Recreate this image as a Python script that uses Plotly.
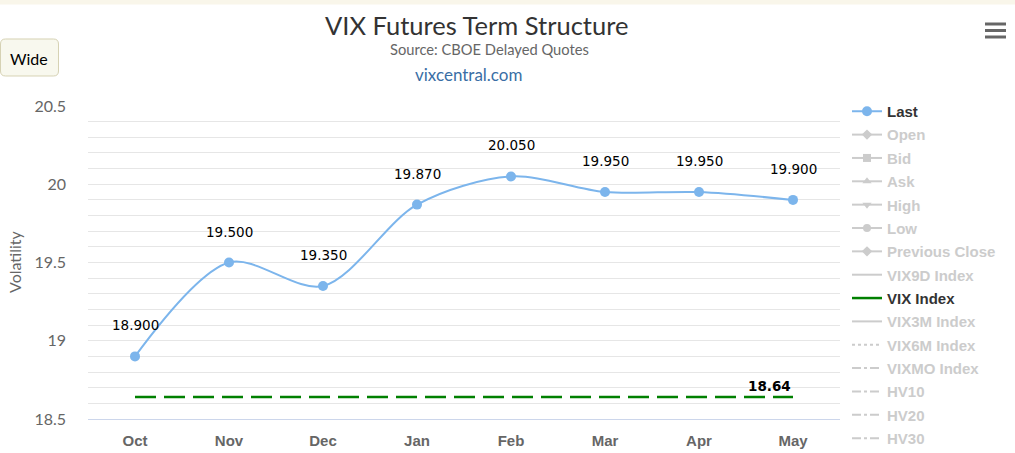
import plotly.graph_objects as go

# ---- data ----
months = ["Oct", "Nov", "Dec", "Jan", "Feb", "Mar", "Apr", "May"]
last_values = [18.900, 19.500, 19.350, 19.870, 20.050, 19.950, 19.950, 19.900]
vix_index = 18.64
y_ticks = [18.5, 19, 19.5, 20, 20.5]
y_tick_labels = ["18.5", "19", "19.5", "20", "20.5"]

hidden_markers = [("Open", "diamond"), ("Bid", "square"), ("Ask", "triangle-up"),
                  ("High", "triangle-down"), ("Low", "circle"), ("Previous Close", "diamond")]
hidden_lines_before = [("VIX9D Index", "solid")]
hidden_lines_after = [("VIX3M Index", "solid"), ("VIX6M Index", "dot"),
                      ("VIXMO Index", "dashdot"), ("HV10", "dashdot"),
                      ("HV20", "dashdot"), ("HV30", "dashdot")]

W, H = 1015, 453
L, R, T, B = 88, 175, 106, 34
PW, PH = W - L - R, H - T - B

def px(x):
    return (x - L) / PW

def py(y):
    return (H - B - y) / PH

GREY = "#cccccc"
BLUE = "#7cb5ec"
GREEN = "#008000"
TF = "Lato"

fig = go.Figure()
gi = 0

def grp():
    global gi
    gi += 1
    return "g%d" % gi

fig.add_trace(go.Scatter(
    x=months, y=last_values, name="Last", mode="lines+markers",
    line=dict(color=BLUE, width=2, shape="spline", smoothing=0.9),
    marker=dict(color=BLUE, size=10), legendgroup=grp(), hoverinfo="x+y"))

for name, sym in hidden_markers:
    fig.add_trace(go.Scatter(
        x=[None], y=[None], mode="lines+markers",
        name='<span style="color:%s">%s</span>' % (GREY, name),
        line=dict(color=GREY, width=2), marker=dict(color=GREY, size=8, symbol=sym),
        legendgroup=grp()))

for name, dash in hidden_lines_before:
    fig.add_trace(go.Scatter(
        x=[None], y=[None], mode="lines",
        name='<span style="color:%s">%s</span>' % (GREY, name),
        line=dict(color=GREY, width=2, dash=dash), legendgroup=grp()))

vix_group = grp()
fig.add_trace(go.Scatter(
    x=[months[0], months[-1]], y=[vix_index, vix_index], name="VIX Index", mode="lines",
    line=dict(color=GREEN, width=2.5, dash="21px,8px"), legendgroup=vix_group,
    showlegend=False))
fig.add_trace(go.Scatter(
    x=[None], y=[None], name="VIX Index", mode="lines",
    line=dict(color=GREEN, width=2.5), legendgroup=vix_group))

for name, dash in hidden_lines_after:
    fig.add_trace(go.Scatter(
        x=[None], y=[None], mode="lines",
        name='<span style="color:%s">%s</span>' % (GREY, name),
        line=dict(color=GREY, width=2, dash=dash), legendgroup=grp()))

annotations = []
for m, v in zip(months, last_values):
    annotations.append(dict(x=m, y=v, text="%.3f" % v, showarrow=False, yshift=31,
                            font=dict(family="DejaVu Sans", size=13.5, color="#000000")))
annotations.append(dict(x=months[-1], y=vix_index, text="<b>%.2f</b>" % vix_index,
                        showarrow=False, xanchor="right", yshift=11,
                        font=dict(family="DejaVu Sans", size=13.5, color="#000000")))
# titles
annotations += [
    dict(xref="paper", yref="paper", x=px(476), y=py(25), text="VIX Futures Term Structure",
         showarrow=False, xanchor="center", yanchor="middle",
         font=dict(family=TF, size=25.5, color="#333333")),
    dict(xref="paper", yref="paper", x=px(490), y=py(49), text="Source: CBOE Delayed Quotes",
         showarrow=False, xanchor="center", yanchor="middle",
         font=dict(family=TF, size=14.7, color="#666666")),
    dict(xref="paper", yref="paper", x=px(468), y=py(75), text="vixcentral.com",
         showarrow=False, xanchor="center", yanchor="middle",
         font=dict(family=TF, size=17, color="#3a6ea5")),
    dict(xref="paper", yref="paper", x=px(14), y=py(262), text="Volatility",
         showarrow=False, xanchor="center", yanchor="middle", textangle=-90,
         font=dict(family=TF, size=16, color="#666666")),
    dict(xref="paper", yref="paper", x=px(29), y=py(58), text="Wide",
         showarrow=False, xanchor="center", yanchor="middle",
         font=dict(family=TF, size=16, color="#000000")),
]

def rounded_rect(x0, y0, x1, y1, r):
    pts = [
        "M %f,%f" % (px(x0 + r), py(y0)),
        "L %f,%f" % (px(x1 - r), py(y0)),
        "Q %f,%f %f,%f" % (px(x1), py(y0), px(x1), py(y0 + r)),
        "L %f,%f" % (px(x1), py(y1 - r)),
        "Q %f,%f %f,%f" % (px(x1), py(y1), px(x1 - r), py(y1)),
        "L %f,%f" % (px(x0 + r), py(y1)),
        "Q %f,%f %f,%f" % (px(x0), py(y1), px(x0), py(y1 - r)),
        "L %f,%f" % (px(x0), py(y0 + r)),
        "Q %f,%f %f,%f" % (px(x0), py(y0), px(x0 + r), py(y0)),
        "Z",
    ]
    return " ".join(pts)

shapes = [
    dict(type="rect", xref="paper", yref="paper", x0=px(-5), x1=px(W + 5), y0=py(4.5), y1=py(-5),
         fillcolor="#f9f6ea", line=dict(width=0), layer="below"),
    dict(type="path", xref="paper", yref="paper", path=rounded_rect(0.5, 39, 58.5, 76, 5),
         fillcolor="#f8f8ee", line=dict(color="#d6d2b4", width=1)),
]
for yc in (24, 30.5, 37):
    shapes.append(dict(type="rect", xref="paper", yref="paper", x0=px(985), x1=px(1006),
                       y0=py(yc + 1.5), y1=py(yc - 1.5), fillcolor="#666666",
                       line=dict(width=0)))

fig.update_layout(
    width=W, height=H, autosize=False,
    margin=dict(l=L, r=R, t=T, b=B, pad=0, autoexpand=False),
    paper_bgcolor="white", plot_bgcolor="white",
    font=dict(family="Liberation Sans", color="#666666"),
    showlegend=True,
    legend=dict(x=px(847), y=py(95), xanchor="left", yanchor="top",
                font=dict(family="Liberation Sans", size=15, color="#333333", weight="bold"),
                tracegroupgap=0.85, itemwidth=30, bgcolor="rgba(0,0,0,0)", maxheight=700),
    annotations=annotations,
    shapes=shapes,
    xaxis=dict(type="category", range=[-0.5, len(months) - 0.5], showgrid=False,
               showline=True, linecolor="#ccd6eb", linewidth=1, ticks="",
               tickfont=dict(family="Liberation Sans", size=15, color="#666666", weight="bold"),
               ticklabelstandoff=8, fixedrange=True, zeroline=False),
    yaxis=dict(range=[18.5, 20.5], tickvals=y_ticks, ticktext=y_tick_labels,
               showgrid=True, gridcolor="#e6e6e6", gridwidth=1,
               minor=dict(dtick=0.1, showgrid=True, gridcolor="#e6e6e6", gridwidth=1),
               showline=False, zeroline=False, ticks="",
               tickfont=dict(family=TF, size=16, color="#666666"),
               ticklabelstandoff=21, fixedrange=True),
)

fig.write_html("out.html", config={"displayModeBar": False},
               post_script="document.body.style.margin='0';document.body.style.padding='0';")
